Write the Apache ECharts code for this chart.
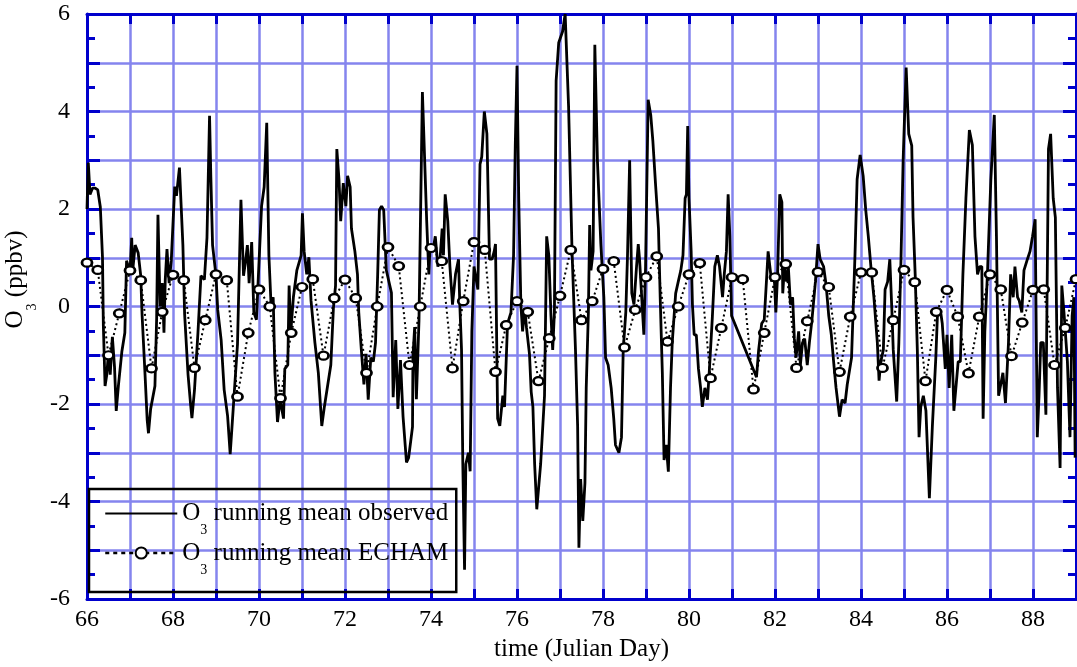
<!DOCTYPE html>
<html>
<head>
<meta charset="utf-8">
<title>O3 running mean</title>
<script src="https://cdn.jsdelivr.net/npm/echarts@6/dist/echarts.min.js"></script>
<style>
  html, body { margin: 0; padding: 0; background: #ffffff; }
  #chart { width: 1077px; height: 667px; }
</style>
</head>
<body>
<div id="chart"></div>
<script>
// Observed O3 running mean (time in Julian day, anomaly in ppbv)
const obsDays = [
  66.00, 66.03, 66.07, 66.10, 66.13, 66.19, 66.25, 66.31, 66.36, 66.38, 66.42, 66.46, 66.50, 66.54, 66.59, 66.64, 66.68, 66.73, 66.81, 66.88, 66.92,
  67.00, 67.04, 67.06, 67.12, 67.19, 67.25, 67.28, 67.35, 67.40, 67.43, 67.48, 67.58, 67.62, 67.65, 67.70, 67.75, 67.79, 67.82, 67.86, 67.91, 67.96,
  68.04, 68.08, 68.15, 68.23, 68.27, 68.35, 68.41, 68.44, 68.50, 68.58, 68.65, 68.73, 68.79, 68.85, 68.88, 68.92,
  69.00, 69.04, 69.12, 69.19, 69.27, 69.33, 69.40, 69.50, 69.58, 69.64, 69.69, 69.73, 69.77, 69.83, 69.88, 69.94, 69.98,
  70.06, 70.12, 70.18, 70.23, 70.28, 70.33, 70.37, 70.43, 70.49, 70.57, 70.60, 70.67, 70.70, 70.74, 70.80, 70.88, 70.98,
  71.01, 71.05, 71.11, 71.16, 71.21, 71.30, 71.38, 71.46, 71.52, 71.60, 71.67, 71.73, 71.78, 71.81, 71.86, 71.90, 71.96,
  72.02, 72.06, 72.12, 72.15, 72.23, 72.29, 72.32, 72.38, 72.44, 72.49, 72.54, 72.60, 72.66, 72.71, 72.76, 72.80, 72.85, 72.90, 72.96,
  73.08, 73.12, 73.18, 73.23, 73.29, 73.35, 73.43, 73.48, 73.57, 73.58, 73.62, 73.66, 73.72, 73.80, 73.90, 73.95, 73.98,
  74.04, 74.10, 74.16, 74.21, 74.26, 74.29, 74.33, 74.39, 74.44, 74.50, 74.57, 74.64, 74.67, 74.71, 74.74, 74.78, 74.81, 74.87, 74.91, 74.95,
  75.00, 75.09, 75.14, 75.18, 75.24, 75.30, 75.36, 75.42, 75.47, 75.50, 75.55, 75.60, 75.67, 75.71, 75.78, 75.86, 75.92, 75.96,
  76.00, 76.04, 76.09, 76.13, 76.18, 76.22, 76.29, 76.33, 76.37, 76.41, 76.46, 76.50, 76.55, 76.64, 76.69, 76.74, 76.79, 76.83, 76.87, 76.91, 76.97,
  77.06, 77.12, 77.16, 77.20, 77.28, 77.36, 77.41, 77.44, 77.48, 77.53, 77.58, 77.61, 77.66, 77.69, 77.72, 77.77, 77.81, 77.87, 77.95,
  78.02, 78.06, 78.12, 78.19, 78.25, 78.29, 78.37, 78.43, 78.47, 78.53, 78.57, 78.62, 78.67, 78.72, 78.78, 78.82, 78.85, 78.91, 78.95, 78.99,
  79.05, 79.11, 79.16, 79.22, 79.29, 79.33, 79.38, 79.42, 79.47, 79.52, 79.57, 79.61, 79.69, 79.75, 79.81, 79.86, 79.91, 79.94, 79.97,
  80.00, 80.05, 80.08, 80.12, 80.17, 80.22, 80.27, 80.31, 80.37, 80.43, 80.47, 80.54, 80.60, 80.66, 80.71, 80.78, 80.82, 80.87, 80.91, 80.95, 80.99,
  81.57, 81.62, 81.69, 81.75, 81.81, 81.84, 81.88, 81.92, 81.98,
  82.02, 82.06, 82.11, 82.16, 82.18, 82.22, 82.27, 82.31, 82.36, 82.41, 82.45, 82.49, 82.55, 82.59, 82.64, 82.69, 82.75, 82.80, 82.86, 82.94,
  83.00, 83.05, 83.13, 83.19, 83.25, 83.31, 83.37, 83.42, 83.50, 83.56, 83.63, 83.68, 83.78, 83.81, 83.86, 83.91, 83.98,
  84.05, 84.11, 84.17, 84.23, 84.30, 84.38, 84.42, 84.46, 84.52, 84.56, 84.62, 84.67, 84.72, 84.75, 84.83, 84.88, 84.93, 84.98,
  85.05, 85.11, 85.18, 85.21, 85.26, 85.31, 85.35, 85.39, 85.45, 85.51, 85.59, 85.66, 85.74, 85.78, 85.86, 85.89, 85.96,
  86.00, 86.05, 86.11, 86.16, 86.20, 86.26, 86.31, 86.37, 86.44, 86.52, 86.59, 86.65, 86.71, 86.76, 86.81, 86.84, 86.88, 86.94,
  87.02, 87.10, 87.15, 87.20, 87.25, 87.30, 87.36, 87.43, 87.48, 87.54, 87.58, 87.64, 87.68, 87.74, 87.79, 87.87, 87.93, 87.99,
  88.05, 88.10, 88.14, 88.18, 88.24, 88.30, 88.36, 88.41, 88.47, 88.52, 88.57, 88.63, 88.67, 88.72, 88.80, 88.86, 88.91, 88.95, 88.98
];
const obsO3 = [
  2.0, 2.95, 2.3, 2.27, 2.43, 2.43, 2.39, 2.04, 1.02, -0.38, -1.63, -1.4, -0.93, -1.4, -0.62, -1.24, -2.14, -1.63, -0.93, -0.54, 0.94,
  0.71, 1.41, 0.71, 1.26, 1.1, 0.63, -0.15, -1.4, -2.33, -2.6, -2.1, -1.63, -0.23, 1.88, 0.0, 0.48, -0.54, 0.55, 1.18, 0.48, 0.94,
  2.46, 2.27, 2.85, 1.26, -0.15, -1.4, -2.02, -2.29, -1.71, -0.54, 0.63, 0.55, 1.41, 3.91, 2.66, 1.26,
  0.63, -0.07, -0.69, -1.71, -2.25, -3.03, -2.1, -0.77, 2.19, 0.63, 0.94, 1.26, 0.48, 1.32, -0.12, -0.27, 0.51,
  2.06, 2.45, 3.77, 1.05, 0.04, 0.19, -1.36, -2.37, -1.91, -2.3, -1.28, -1.2, 0.43, -0.51, 0.19, 0.74, 1.05,
  1.91, 1.13, 0.66, 1.01, 0.12, -0.74, -1.36, -2.45, -2.06, -1.6, -1.2, -0.04, 0.43, 3.23, 2.61, 1.75, 2.53,
  2.06, 2.68, 2.45, 1.6, 1.13, 0.66, -0.12, -0.89, -1.6, -0.97, -1.91, -1.05, -1.13, -0.74, 0.66, 1.98, 2.06, 1.98, 0.75,
  0.28, -1.86, -0.69, -2.1, -1.1, -2.26, -3.2, -3.1, -2.47, -1.03, -0.42, -1.9, -0.3, 4.4, 1.75, 0.66, 1.28,
  1.13, 1.44, 0.82, 0.97, 1.6, 1.05, 2.3, 1.75, 0.82, 0.04, 0.66, 0.97, 0.04, -0.89, -3.23, -5.4, -3.23, -3.0, -3.38, -0.51,
  0.82, 0.35, 2.92, 3.07, 4.0, 3.54, 0.97, 0.97, 1.13, 1.28, -2.3, -2.45, -1.83, -2.06, -0.35, -0.12, 1.05, 3.31,
  4.94, 2.22, 0.04, -0.51, -0.04, -0.43, -0.97, -1.75, -2.06, -3.23, -4.16, -4.2, -3.23, -1.83, 1.44, 1.05, -0.19, -0.89, -0.12, 4.63, 5.41,
  5.64, 6.0, 6.0, 4.09, 1.13, -0.89, -2.45, -4.95, -3.54, -4.4, -3.62, -1.67, -0.12, 1.67, 0.74, 1.13, 5.37, 3.0, 1.28,
  0.19, -1.05, -1.2, -1.67, -2.3, -2.84, -3.0, -2.68, -0.89, -0.12, 1.05, 3.0, 0.27, 0.04, 0.82, 1.28, 0.97, 0.04, -0.58, 0.82,
  4.24, 3.93, 3.39, 2.53, 1.6, 0.19, -1.36, -3.15, -2.84, -3.39, -1.67, -0.74, 0.27, 0.51, 0.74, 1.05, 2.22, 2.3, 3.7,
  2.22, 1.13, 0.04, -0.58, -0.58, -1.28, -1.67, -2.06, -1.67, -1.91, -1.36, -0.27, 0.82, 1.05, 0.82, 0.19, 0.66, 1.13, 2.3, 1.44, -0.19,
  -1.45, -0.89, -0.35, -0.27, 0.66, 1.13, 0.82, 0.51, 0.66,
  -0.12, 0.66, 2.3, 2.14, 0.27, 0.82, 0.51, 0.82, 0.04, 0.19, -0.66, -1.05, -0.51, -1.2, -0.74, -0.66, -1.2, -0.74, -0.27, 0.51,
  1.28, 0.97, 0.82, 0.43, -0.19, -0.58, -1.2, -1.67, -2.26, -1.91, -1.98, -1.6, -1.05, -0.27, 1.05, 2.61, 3.11,
  2.68, 1.98, 1.44, 0.82, 0.19, -0.74, -1.52, -1.13, -0.89, 0.35, 0.51, 0.97, -0.12, -0.89, -1.95, -0.74, 0.97, 3.0,
  4.9, 3.54, 3.3, 1.83, 0.66, -0.89, -2.68, -2.06, -1.83, -2.14, -3.93, -2.45, -1.05, -0.12, -0.16, -0.35, -1.28,
  -0.58, -1.67, -0.58, -2.14, -2.14, -1.13, -1.13, 0.66, 2.22, 3.62, 3.31, 1.44, 0.66, 0.82, 0.82, -2.3, -0.51, 0.66,
  2.61, 3.93, 1.44, -1.83, -1.6, -1.36, -1.98, -0.74, 0.66, 0.19, 0.82, 0.19, 0.12, -0.12, 0.74, 0.97, 1.13, 1.44,
  1.79, -2.68, -1.83, -0.74, -0.74, -2.22, 3.23, 3.54, 2.22, 1.83, -1.67, -3.31, 0.43, -0.12, -1.13, -2.68, -0.19, 0.19, -3.1
];

// ECHAM O3 running mean, 6-hourly
const echamDays = [
  66.00, 66.25, 66.50, 66.75, 67.00, 67.25, 67.50, 67.75, 68.00, 68.25, 68.50, 68.75,
  69.00, 69.25, 69.50, 69.75, 70.00, 70.25, 70.50, 70.75, 71.00, 71.25, 71.50, 71.75,
  72.00, 72.25, 72.50, 72.75, 73.00, 73.25, 73.50, 73.75, 74.00, 74.25, 74.50, 74.75,
  75.00, 75.25, 75.50, 75.75, 76.00, 76.25, 76.50, 76.75, 77.00, 77.25, 77.50, 77.75,
  78.00, 78.25, 78.50, 78.75, 79.00, 79.25, 79.50, 79.75, 80.00, 80.25, 80.50, 80.75,
  81.00, 81.25, 81.50, 81.75, 82.00, 82.25, 82.50, 82.75, 83.00, 83.25, 83.50, 83.75,
  84.00, 84.25, 84.50, 84.75, 85.00, 85.25, 85.50, 85.75, 86.00, 86.25, 86.50, 86.75,
  87.00, 87.25, 87.50, 87.75, 88.00, 88.25, 88.50, 88.75, 89.00
];
const echamO3 = [
  0.9, 0.75, -1.0, -0.14, 0.74, 0.54, -1.27, -0.11, 0.65, 0.54, -1.26, -0.28,
  0.66, 0.54, -1.85, -0.54, 0.35, 0.0, -1.88, -0.54, 0.4, 0.56, -1.01, 0.17,
  0.55, 0.17, -1.36, 0.0, 1.22, 0.83, -1.2, 0.0, 1.2, 0.93, -1.27, 0.11,
  1.32, 1.16, -1.34, -0.38, 0.11, -0.11, -1.53, -0.65, 0.22, 1.16, -0.28, 0.11,
  0.77, 0.93, -0.84, -0.07, 0.6, 1.03, -0.72, 0.0, 0.66, 0.89, -1.47, -0.44,
  0.6, 0.56, -1.7, -0.54, 0.6, 0.87, -1.26, -0.3, 0.71, 0.4, -1.34, -0.21,
  0.7, 0.7, -1.26, -0.28, 0.75, 0.5, -1.53, -0.11, 0.34, -0.21, -1.37, -0.21,
  0.66, 0.35, -1.02, -0.33, 0.34, 0.35, -1.2, -0.44, 0.56
];

// Labelled ticks
const xTickLabels = [66, 68, 70, 72, 74, 76, 78, 80, 82, 84, 86, 88];
const yTickLabels = [-6, -4, -2, 0, 2, 4, 6];

const SERIF = '"Liberation Serif", "Times New Roman", serif';
const AXIS_BLUE = '#0000cc';
const GRID_BLUE = '#8585ee';

const obsData = obsDays.map((d, i) => [d, obsO3[i]]);
const echamData = echamDays.map((d, i) => [d, echamO3[i]]);

// "O" with a lowered subscript "3"
const subRich = {
  o: { fontFamily: SERIF, fontSize: 25, color: '#000000', lineHeight: 36 },
  s: { fontFamily: SERIF, fontSize: 14, color: '#000000', lineHeight: 2, height: 2, verticalAlign: 'bottom' }
};

const legendNames = {
  observed: '{o|O}{s|3}{o| running mean observed}',
  ECHAM: '{o|O}{s|3}{o| running mean ECHAM}'
};

const chart = echarts.init(document.getElementById('chart'), null, { renderer: 'canvas' });

const xBase = {
  type: 'value', min: 66, max: 89, interval: 1,
  axisLine: { show: true, onZero: false, lineStyle: { color: AXIS_BLUE, width: 3 } },
  axisTick: { show: true, inside: true, length: 10, lineStyle: { color: AXIS_BLUE, width: 3 } }
};
const yBase = {
  type: 'value', min: -6, max: 6, interval: 1,
  axisLine: { show: true, onZero: false, lineStyle: { color: AXIS_BLUE, width: 3 } },
  axisTick: { show: true, inside: true, length: 13, lineStyle: { color: AXIS_BLUE, width: 3 } },
  minorTick: { show: true, splitNumber: 2, length: 8, lineStyle: { color: AXIS_BLUE, width: 3 } }
};

chart.setOption({
  animation: false,
  backgroundColor: '#ffffff',
  grid: { left: 87, right: 1, top: 14, bottom: 68, containLabel: false, outerBoundsMode: 'none' },
  legend: {
    orient: 'vertical',
    left: 89, top: 489,
    padding: [12, 8, 15, 15],
    itemGap: 3,
    itemWidth: 72,
    itemHeight: 14,
    borderColor: '#000000',
    borderWidth: 2.5,
    selectedMode: false,
    data: [
      { name: 'observed', itemStyle: { opacity: 0 } },
      { name: 'ECHAM', lineStyle: { type: [4, 4], width: 2.5 } }
    ],
    formatter: name => legendNames[name],
    textStyle: { color: '#000000', rich: subRich }
  },
  xAxis: [
    Object.assign({}, xBase, {
      position: 'bottom',
      name: 'time (Julian Day)',
      nameLocation: 'middle',
      nameGap: 38,
      nameTextStyle: { fontFamily: SERIF, fontSize: 25, color: '#000000' },
      axisLabel: {
        show: true, margin: 9, fontFamily: SERIF, fontSize: 24, color: '#000000',
        formatter: v => (xTickLabels.indexOf(v) >= 0 ? String(v) : '')
      },
      splitLine: { show: true, lineStyle: { color: GRID_BLUE, width: 2.5 } }
    }),
    Object.assign({}, xBase, {
      position: 'top',
      axisLabel: { show: false },
      splitLine: { show: false }
    })
  ],
  yAxis: [
    Object.assign({}, yBase, {
      position: 'left',
      name: '{o|O}{s|3}{o| (ppbv)}',
      nameLocation: 'middle',
      nameGap: 40,
      nameTextStyle: { padding: [0, 0, 0, 54], rich: subRich },
      axisLabel: {
        show: true, margin: 17, fontFamily: SERIF, fontSize: 24, color: '#000000',
        formatter: v => (yTickLabels.indexOf(v) >= 0 ? String(v) : '')
      },
      splitLine: { show: true, lineStyle: { color: GRID_BLUE, width: 2.5 } },
      minorSplitLine: { show: false }
    }),
    Object.assign({}, yBase, {
      position: 'right',
      axisLabel: { show: false },
      splitLine: { show: false }
    })
  ],
  series: [
    {
      name: 'observed',
      type: 'line',
      xAxisIndex: 0, yAxisIndex: 0,
      data: obsData,
      symbol: 'none',
      showSymbol: false,
      lineStyle: { color: '#000000', width: 2.8 },
      itemStyle: { color: '#000000' },
      z: 3
    },
    {
      name: 'ECHAM',
      type: 'line',
      xAxisIndex: 0, yAxisIndex: 0,
      data: echamData,
      symbol: 'circle',
      symbolSize: [10, 8],
      showSymbol: true,
      showAllSymbol: true,
      lineStyle: { color: '#000000', width: 2, type: [2, 3] },
      itemStyle: { color: '#ffffff', borderColor: '#000000', borderWidth: 2.5 },
      z: 4
    }
  ]
});
</script>
</body>
</html>
